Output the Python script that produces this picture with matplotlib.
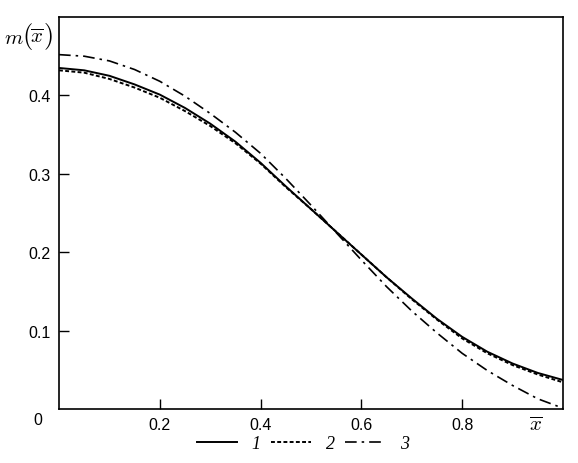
import matplotlib
matplotlib.use("Agg")
import matplotlib.pyplot as plt

# values
x = [0.00, 0.05, 0.10, 0.15, 0.20, 0.25, 0.30, 0.35, 0.40, 0.45, 0.50,
     0.55, 0.60, 0.65, 0.70, 0.75, 0.80, 0.85, 0.90, 0.95, 1.00]
m1 = [0.435, 0.432, 0.425, 0.414, 0.401, 0.384, 0.364, 0.341, 0.314, 0.284, 0.255,
      0.226, 0.197, 0.168, 0.141, 0.115, 0.092, 0.073, 0.058, 0.046, 0.037]
m2 = [0.432, 0.429, 0.421, 0.410, 0.397, 0.380, 0.361, 0.339, 0.313, 0.283, 0.255,
      0.226, 0.197, 0.168, 0.140, 0.114, 0.090, 0.071, 0.056, 0.044, 0.034]
m3 = [0.452, 0.450, 0.444, 0.433, 0.418, 0.399, 0.377, 0.353, 0.326, 0.294, 0.260,
      0.225, 0.190, 0.156, 0.125, 0.097, 0.071, 0.049, 0.030, 0.013, 0.001]
labels = ["1", "2", "3"]
x_ticks = [0.2, 0.4, 0.6, 0.8]
y_ticks = [0.1, 0.2, 0.3, 0.4]

plt.rcParams["font.family"] = "Liberation Sans"
plt.rcParams["mathtext.fontset"] = "cm"
font_size = 11.5

W, H = 578, 464
fig = plt.figure(figsize=(W / 100, H / 100), dpi=100)
ax = fig.add_axes([59 / W, 54 / H, 504 / W, 392 / H])

ax.plot(x, m1, color="black", lw=1.4, ls="-", label=labels[0])
ax.plot(x, m2, color="black", lw=1.4, ls=(0, (2.0, 1.2)), label=labels[1])
ax.plot(x, m3, color="black", lw=1.2, ls=(0, (7, 3, 1.5, 3)), label=labels[2])

ax.set_xlim(0, 1.0)
ax.set_ylim(0, 0.5)
ax.set_xticks(x_ticks)
ax.set_yticks(y_ticks)
ax.set_xticklabels([str(t) for t in x_ticks])
ax.set_yticklabels([str(t) for t in y_ticks])
ax.tick_params(direction="in", length=7, width=1, labelsize=font_size, pad=6)
for s in ax.spines.values():
    s.set_linewidth(1.2)

# origin label shared by both axes
fig.text(38 / W, 1 - 421 / H, "0", fontsize=font_size, ha="center", va="center")

# y label m(x) with tall brackets, put together piece by piece
fig.text(14 / W, 1 - 39 / H, r"$m$", fontsize=15, ha="center", va="center")
fig.text(27 / W, 1 - 37 / H, r"$($", fontsize=19, ha="center", va="center")
fig.text(37 / W, 1 - 37 / H, r"$\overline{x}$", fontsize=15, ha="center", va="center")
fig.text(48 / W, 1 - 37 / H, r"$)$", fontsize=19, ha="center", va="center")
# x label
fig.text(536 / W, 1 - 425 / H, r"$\overline{x}$", fontsize=15, ha="center", va="center")

leg = fig.legend(loc="center", bbox_to_anchor=(303 / W, 1 - 445 / H), ncol=3, frameon=False,
                 handlelength=2.2, handletextpad=0.8, columnspacing=0.6,
                 borderpad=0, borderaxespad=0,
                 prop={"family": "Liberation Serif", "style": "italic", "size": 13})

plt.savefig("out.png", dpi=100)
